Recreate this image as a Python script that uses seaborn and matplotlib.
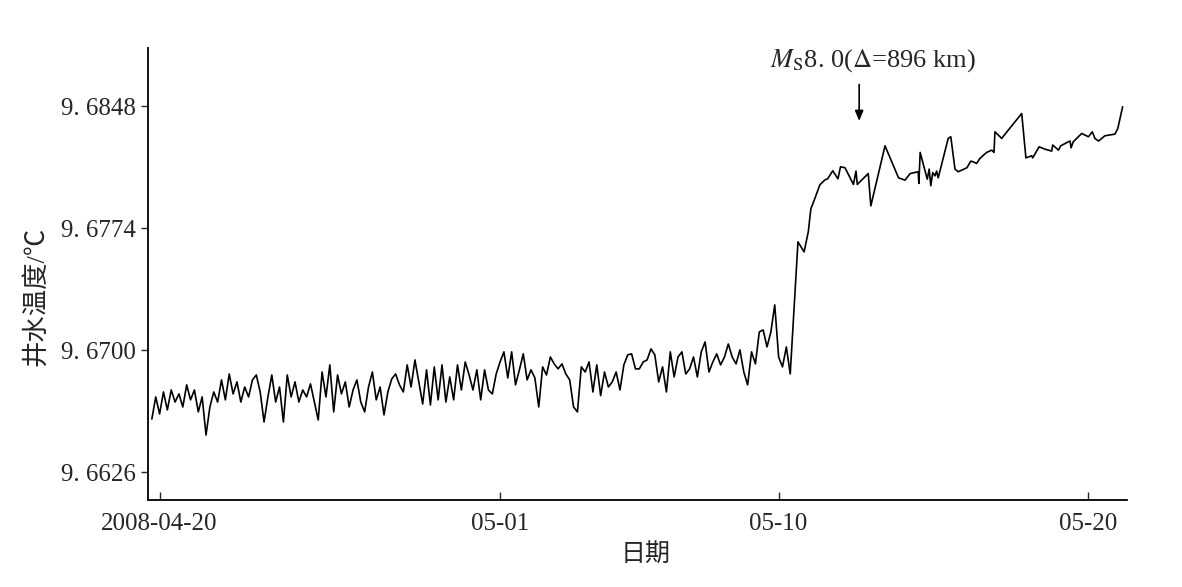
import matplotlib
matplotlib.use("Agg")
import matplotlib.pyplot as plt
import matplotlib.ticker as mticker
import seaborn as sns
import pandas as pd

# 井水温度观测（前段为 3 小时间隔的密集记录）
dense_start = "2008-04-19 18:00"
dense_values = [
    9.66583, 9.66717, 9.66614, 9.66747, 9.66638, 9.66759, 9.66686, 9.66735, 9.66656, 9.66790,
    9.66699, 9.66759, 9.66626, 9.66717, 9.66486, 9.66656, 9.66747, 9.66686, 9.66820, 9.66699,
    9.66856, 9.66735, 9.66808, 9.66686, 9.66777, 9.66717, 9.66820, 9.66850, 9.66747, 9.66565,
    9.66717, 9.66850, 9.66686, 9.66777, 9.66565, 9.66850, 9.66717, 9.66808, 9.66686, 9.66759,
    9.66717, 9.66796, 9.66686, 9.66577, 9.66868, 9.66717, 9.66911, 9.66626, 9.66850, 9.66735,
    9.66808, 9.66656, 9.66759, 9.66820, 9.66686, 9.66626, 9.66777, 9.66868, 9.66699, 9.66777,
    9.66608, 9.66747, 9.66826, 9.66856, 9.66790, 9.66747, 9.66911, 9.66777, 9.66941, 9.66808,
    9.66674, 9.66881, 9.66668, 9.66899, 9.66699, 9.66911, 9.66686, 9.66838, 9.66699, 9.66911,
    9.66759, 9.66929, 9.66850, 9.66759, 9.66881, 9.66699, 9.66881, 9.66759, 9.66735, 9.66856,
    9.66929, 9.66990, 9.66832, 9.66990, 9.66790, 9.66881, 9.66978, 9.66820, 9.66881, 9.66832,
    9.66656, 9.66899, 9.66850, 9.66959, 9.66917, 9.66887, 9.66917, 9.66856, 9.66820, 9.66656,
    9.66626, 9.66899, 9.66868, 9.66929, 9.66747, 9.66911, 9.66725, 9.66868, 9.66777, 9.66808,
    9.66868, 9.66759, 9.66911, 9.66972, 9.66978, 9.66887, 9.66887, 9.66929, 9.66941, 9.67008,
    9.66972, 9.66808, 9.66899, 9.66747, 9.66990, 9.66838, 9.66959, 9.66990, 9.66856, 9.66887,
    9.66959, 9.66838, 9.66990, 9.67050, 9.66868, 9.66929, 9.66978, 9.66911, 9.66959, 9.67038,
    9.66959, 9.66917, 9.67002, 9.66868, 9.66790, 9.66990, 9.66917, 9.67111, 9.67123, 9.67020,
    9.67111, 9.67275, 9.66959, 9.66899, 9.67020, 9.66856,
]

# 后段（震前阶跃之后）的观测点
late_times = [
    "05-10 15:00", "05-10 19:45", "05-10 23:00", "05-11 01:00", "05-11 04:00", "05-11 08:00",
    "05-11 12:00", "05-11 14:00", "05-11 18:00", "05-11 22:00", "05-12 00:00", "05-12 03:30",
    "05-12 10:00", "05-12 12:00", "05-12 13:00", "05-12 21:30", "05-12 23:30", "05-13 10:30",
    "05-13 21:00", "05-14 02:00", "05-14 06:00", "05-14 12:15", "05-14 12:45", "05-14 13:45",
    "05-14 19:15", "05-14 20:45", "05-14 22:00", "05-14 23:30", "05-15 01:15", "05-15 02:30",
    "05-15 03:45", "05-15 11:30", "05-15 13:30", "05-15 16:45", "05-15 19:15", "05-16 02:00",
    "05-16 05:00", "05-16 07:00", "05-16 09:30", "05-16 12:00", "05-16 17:15", "05-16 21:15",
    "05-16 23:00", "05-16 23:45", "05-17 05:00", "05-17 09:00", "05-17 20:30", "05-17 23:45",
    "05-18 04:15", "05-18 05:00", "05-18 10:00", "05-18 14:30", "05-18 19:45", "05-18 20:30",
    "05-19 01:00", "05-19 02:45", "05-19 08:45", "05-19 10:00", "05-19 10:45", "05-19 12:30",
    "05-19 19:00", "05-20 00:15", "05-20 03:15", "05-20 05:15", "05-20 08:00", "05-20 13:00",
    "05-20 20:45", "05-20 23:00", "05-21 02:45",
]
late_values = [
    9.67657, 9.67596, 9.67718, 9.67857, 9.67918, 9.68003,
    9.68033, 9.68039, 9.68088, 9.68039, 9.68112, 9.68106,
    9.68005, 9.68086, 9.68005, 9.68071, 9.67875, 9.68239,
    9.68045, 9.68031, 9.68071, 9.68082, 9.68011, 9.68199,
    9.68037, 9.68098, 9.67997, 9.68077, 9.68057, 9.68086,
    9.68045, 9.68284, 9.68294, 9.68098, 9.68082, 9.68106,
    9.68146, 9.68142, 9.68132, 9.68162, 9.68199, 9.68213,
    9.68199, 9.68324, 9.68284, 9.68324, 9.68435, 9.68166,
    9.68179, 9.68166, 9.68233, 9.68219, 9.68207, 9.68244,
    9.68213, 9.68239, 9.68264, 9.68268, 9.68227, 9.68264,
    9.68314, 9.68294, 9.68324, 9.68284, 9.68268, 9.68300,
    9.68310, 9.68344, 9.68476,
]

y_ticks = [9.6626, 9.6700, 9.6774, 9.6848]
x_tick_dates = ["2008-04-20", "2008-05-01", "2008-05-10", "2008-05-20"]
x_tick_labels = ["2008-04-20", "05-01", "05-10", "05-20"]
quake_time = "2008-05-12 14:28"
quake_label = r"$M_{\rm S}$8. 0($\mathit{\Delta}$=896 km)"

# 组装数据
dense_times = pd.date_range(dense_start, periods=len(dense_values), freq="3h")
late_dt = pd.to_datetime(["2008-" + t for t in late_times])
df = pd.DataFrame({
    "time": list(dense_times) + list(late_dt),
    "temp": dense_values + late_values,
})

sns.set_style("ticks")
plt.rcParams["font.family"] = ["Liberation Serif", "Noto Sans CJK SC"]
plt.rcParams["mathtext.fontset"] = "stix"

fig = plt.figure(figsize=(11.82, 5.87), dpi=100)
ax = fig.add_axes([0.1252, 0.1482, 0.8283, 0.7700])

sns.lineplot(data=df, x="time", y="temp", ax=ax, color="black", linewidth=1.2)

ax.set_xlim(pd.Timestamp("2008-04-19 15:00"), pd.Timestamp("2008-05-21 06:10"))
ax.set_ylim(9.66092, 9.68832)

ax.set_yticks(y_ticks)
ax.yaxis.set_major_formatter(mticker.FuncFormatter(lambda v, p: f"{v:.4f}".replace(".", ". ")))
ax.set_xticks(pd.to_datetime(x_tick_dates))
ax.set_xticklabels(x_tick_labels)

ax.tick_params(axis="y", direction="out", length=5, width=1, labelsize=18, pad=4)
ax.tick_params(axis="x", direction="in", length=6, width=1, labelsize=18, pad=9)

for side in ["top", "right"]:
    ax.spines[side].set_visible(False)
for side in ["left", "bottom"]:
    ax.spines[side].set_linewidth(1.3)
    ax.spines[side].set_color("black")

ax.set_ylabel("井水温度/℃", fontsize=19)
ax.yaxis.set_label_coords(-0.102, 0.45)
ax.set_xlabel("日期", fontsize=18)
ax.xaxis.set_label_coords(0.508, -0.095)

# 地震标注
qt = pd.Timestamp(quake_time)
ax.annotate("", xy=(qt, 9.68373), xytext=(qt, 9.68628),
            arrowprops=dict(arrowstyle="-|>,head_length=0.6,head_width=0.25", color="black", lw=1.2))
ax.text(0.74, 0.972, quake_label, transform=ax.transAxes, ha="center", va="center", fontsize=19)

fig.savefig("out.png", dpi=100)
